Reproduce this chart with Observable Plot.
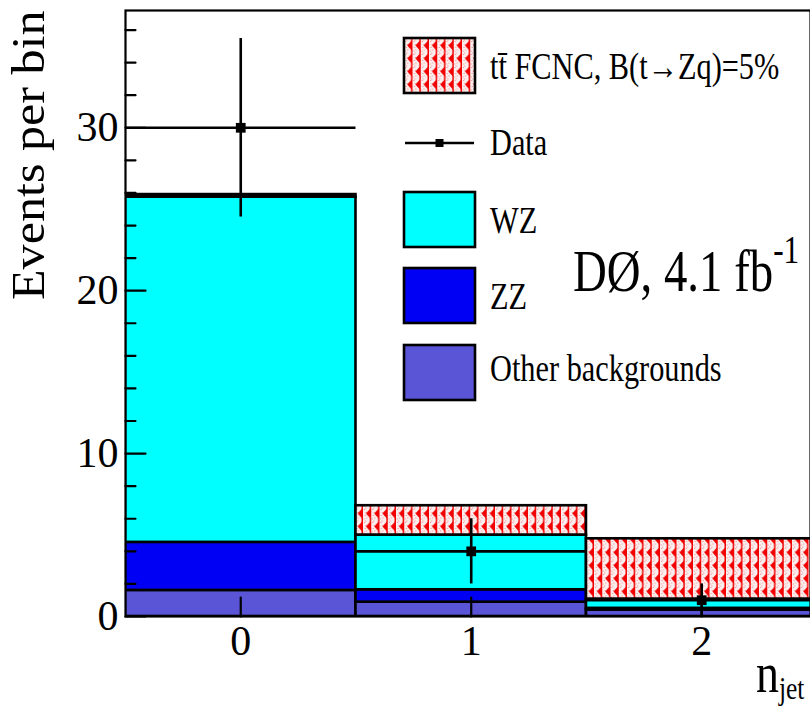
<!DOCTYPE html>
<html><head><meta charset="utf-8">
<script src="https://cdn.jsdelivr.net/npm/d3@7"></script>
<script src="https://cdn.jsdelivr.net/npm/@observablehq/plot@0.6"></script>
<style>body{margin:0;background:#fff;overflow:hidden}</style>
</head><body><div id="chart"></div>
<script>
// ---- data ----
const bins = [0, 1, 2];
const otherBkg = [1.6, 0.88, 0.4];
const zzBkg = [2.95, 0.76, 0.1];
const wzBkg = [21.2, 3.36, 0.57];
const fcncSig = [0.15, 1.8, 3.7];
const dataCounts = [30, 4, 1];
const dataErr = [5.48, 2, 1];
const yMajorTicks = [0, 10, 20, 30];
const yMinorTicks = [2, 4, 6, 8, 12, 14, 16, 18, 22, 24, 26, 28, 32, 34, 36];
const xTicks = [0, 1, 2];
const seriesNames = ["Other backgrounds", "ZZ", "WZ", "tt\u0304 FCNC, B(t\u2192Zq)=5%"];
const seriesColors = ["#5a54d6", "#0000f4", "#00ffff", "url(#fcnc)"];
const seriesValues = [otherBkg, zzBkg, wzBkg, fcncSig];

// ---- build stacked rows ----
const stacks = seriesValues.map(() => []);
bins.forEach((b, i) => {
  let cum = 0;
  seriesValues.forEach((vals, s) => {
    stacks[s].push({bin: b, y1: cum, y2: cum + vals[i]});
    cum += vals[i];
  });
});
const dataRows = bins.map((b, i) => ({bin: b, n: dataCounts[i], lo: dataCounts[i] - dataErr[i], hi: dataCounts[i] + dataErr[i]}));

const tickShape = {draw(ctx, l) { ctx.moveTo(0, 0); ctx.lineTo(0, -l); }};
const FONT = "'Liberation Serif', 'Times New Roman', serif";

const svg = Plot.plot({
  width: 810, height: 706,
  marginLeft: 125, marginRight: 0, marginTop: 10, marginBottom: 90,
  style: {fontFamily: FONT, background: "white", color: "black"},
  x: {domain: [-0.5, 2.472]},
  y: {domain: [0, 37.2]},
  marks: [
    ...stacks.map((rows, s) => Plot.rect(rows, {
      x1: d => d.bin - 0.5, x2: d => d.bin + 0.5, y1: "y1", y2: "y2",
      fill: seriesColors[s], stroke: "black", strokeWidth: 2.6, clip: true
    })),
    Plot.ruleY(dataRows, {x1: d => d.bin - 0.5, x2: d => d.bin + 0.5, y: "n", stroke: "black", strokeWidth: 2.6, clip: true}),
    Plot.ruleX(dataRows, {x: "bin", y1: "lo", y2: "hi", stroke: "black", strokeWidth: 2.6}),
    Plot.dot(dataRows, {x: "bin", y: "n", symbol: "square", r: 5.5, fill: "black"}),
    Plot.vector(yMajorTicks, {y: d => d, frameAnchor: "left", length: 20, rotate: 90, anchor: "start", shape: tickShape, stroke: "black", strokeWidth: 2.2}),
    Plot.vector(yMinorTicks, {y: d => d, frameAnchor: "left", length: 10, rotate: 90, anchor: "start", shape: tickShape, stroke: "black", strokeWidth: 2.2}),
    Plot.vector(xTicks, {x: d => d, frameAnchor: "bottom", length: 19, rotate: 0, anchor: "start", shape: tickShape, stroke: "black", strokeWidth: 2.2}),
    Plot.axisY({ticks: yMajorTicks, tickSize: 0, tickPadding: 7, fontSize: 42, label: null, tickFormat: d => String(d)}),
    Plot.axisX({ticks: xTicks, tickSize: 0, tickPadding: 9, fontSize: 42, label: null, tickFormat: d => String(d)}),
    Plot.frame({stroke: "black", strokeWidth: 2.2})
  ]
});

// ---- pattern for the FCNC signal ----
const sel = d3.select(svg);
const defs = sel.insert("defs", ":first-child");
const pat = defs.append("pattern").attr("id", "fcnc").attr("patternUnits", "userSpaceOnUse")
  .attr("width", 8.25).attr("height", 13);
pat.append("rect").attr("width", 8.25).attr("height", 13).attr("fill", "#fbeeee");
[[1,2],[2.5,5],[1.5,8],[3,10.5],[0.5,11.5],[2,0.5]].forEach(([x, y]) =>
  pat.append("rect").attr("x", x).attr("y", y).attr("width", 1).attr("height", 1).attr("fill", "#f08a8a"));
pat.append("path").attr("d", "M8.25,0.5 L3,6.5 L8.25,12.5 Z").attr("fill", "#f20000");
pat.append("rect").attr("x", 6.8).attr("y", 0).attr("width", 1.45).attr("height", 13).attr("fill", "#f20000");

// ---- legend and labels (inside the frame) ----
const g = sel.append("g").attr("font-family", FONT).attr("fill", "black").attr("text-anchor", "start");
function addText(x, y, str, size, sx, extra) {
  const t = g.append("text").attr("transform", `translate(${x},${y}) ${extra || ""} scale(${sx},1)`)
    .attr("font-size", size).attr("text-anchor", "start");
  t.text(str);
  return t;
}
const boxX = 404, boxW = 71, boxH = 55;
const legendRows = [
  {type: "box", s: 3, top: 38, base: 79},
  {type: "data", mid: 143, base: 155, label: "Data"},
  {type: "box", s: 2, top: 192, base: 233},
  {type: "box", s: 1, top: 268, base: 309},
  {type: "box", s: 0, top: 345, base: 381}
];
legendRows.forEach(r => {
  if (r.type === "box") {
    g.append("rect").attr("x", boxX).attr("y", r.top).attr("width", boxW).attr("height", boxH)
      .attr("fill", seriesColors[r.s]).attr("stroke", "black").attr("stroke-width", 2.6);
    addText(490, r.base, seriesNames[r.s], 37, 0.82);
  } else {
    g.append("line").attr("x1", boxX + 1).attr("x2", boxX + boxW - 1).attr("y1", r.mid).attr("y2", r.mid)
      .attr("stroke", "black").attr("stroke-width", 2.6);
    g.append("rect").attr("x", boxX + boxW / 2 - 4).attr("y", r.mid - 4).attr("width", 8).attr("height", 8).attr("fill", "black");
    addText(490, r.base, r.label, 37, 0.82);
  }
});
// experiment label
const dz = addText(573, 291, "D\u00d8, 4.1 fb", 60, 0.78);
dz.append("tspan").attr("dy", -28).attr("font-size", 40).text("-1");
// axis titles
addText(44, 300, "Events per bin", 46, 1.09, "rotate(-90)");
const nj = addText(756, 692, "n", 56, 0.82);
nj.append("tspan").attr("dy", 7).attr("font-size", 31).text("jet");

document.getElementById("chart").appendChild(svg);
</script>
</body></html>
